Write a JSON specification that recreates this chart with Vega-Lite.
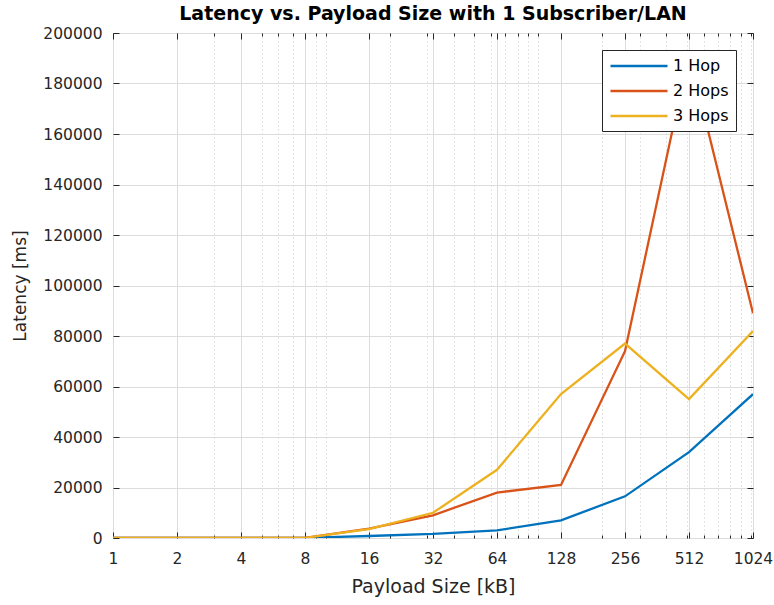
{
  "$schema": "https://vega.github.io/schema/vega-lite/v6.json",
  "width": 640,
  "height": 505,
  "autosize": {"type": "none"},
  "padding": {"left": 113, "top": 33, "right": 21, "bottom": 67},
  "background": "white",
  "title": {
    "text": "Latency vs. Payload Size with 1 Subscriber/LAN",
    "font": "DejaVu Sans",
    "fontSize": 19,
    "fontWeight": "bold",
    "color": "#000000",
    "anchor": "middle",
    "offset": 2
  },
  "config": {
    "view": {"stroke": "#262626", "strokeWidth": 1},
    "axis": {
      "labelFont": "DejaVu Sans",
      "labelFontSize": 15.5,
      "labelColor": "#262626",
      "titleFont": "DejaVu Sans",
      "titleFontSize": 19,
      "titleFontWeight": "normal",
      "titleColor": "#262626",
      "domainColor": "#262626",
      "tickColor": "#262626",
      "gridColor": "#dcdcdc",
      "gridWidth": 1
    },
    "legend": {
      "labelFont": "DejaVu Sans",
      "labelFontSize": 16,
      "labelColor": "#000000"
    }
  },
  "data": {
    "values": [
      {"size": 1, "latency": 30, "series": "1 Hop"},
      {"size": 2, "latency": 30, "series": "1 Hop"},
      {"size": 4, "latency": 40, "series": "1 Hop"},
      {"size": 8, "latency": 60, "series": "1 Hop"},
      {"size": 16, "latency": 800, "series": "1 Hop"},
      {"size": 32, "latency": 1600, "series": "1 Hop"},
      {"size": 64, "latency": 3000, "series": "1 Hop"},
      {"size": 128, "latency": 7000, "series": "1 Hop"},
      {"size": 256, "latency": 16500, "series": "1 Hop"},
      {"size": 512, "latency": 34000, "series": "1 Hop"},
      {"size": 1024, "latency": 57000, "series": "1 Hop"},
      {"size": 1, "latency": 30, "series": "2 Hops"},
      {"size": 2, "latency": 40, "series": "2 Hops"},
      {"size": 4, "latency": 50, "series": "2 Hops"},
      {"size": 8, "latency": 80, "series": "2 Hops"},
      {"size": 16, "latency": 3700, "series": "2 Hops"},
      {"size": 32, "latency": 9000, "series": "2 Hops"},
      {"size": 64, "latency": 18000, "series": "2 Hops"},
      {"size": 128, "latency": 21000, "series": "2 Hops"},
      {"size": 256, "latency": 74000, "series": "2 Hops"},
      {"size": 512, "latency": 192000, "series": "2 Hops"},
      {"size": 1024, "latency": 89000, "series": "2 Hops"},
      {"size": 1, "latency": 30, "series": "3 Hops"},
      {"size": 2, "latency": 40, "series": "3 Hops"},
      {"size": 4, "latency": 50, "series": "3 Hops"},
      {"size": 8, "latency": 80, "series": "3 Hops"},
      {"size": 16, "latency": 3500, "series": "3 Hops"},
      {"size": 32, "latency": 10000, "series": "3 Hops"},
      {"size": 64, "latency": 27000, "series": "3 Hops"},
      {"size": 128, "latency": 57000, "series": "3 Hops"},
      {"size": 256, "latency": 77000, "series": "3 Hops"},
      {"size": 512, "latency": 55000, "series": "3 Hops"},
      {"size": 1024, "latency": 82000, "series": "3 Hops"}
    ]
  },
  "layer": [
    {
      "mark": {"type": "point", "opacity": 0},
      "encoding": {
        "x": {
          "field": "size", "type": "quantitative",
          "scale": {"type": "log", "base": 2, "domain": [1, 1024], "nice": false},
          "axis": {
            "orient": "bottom",
            "values": [3, 5, 6, 7, 9, 10, 20, 30, 40, 50, 60, 70, 80, 90, 100, 200, 300, 400, 500, 600, 700, 800, 900, 1000],
            "labels": false, "domain": false, "title": null,
            "grid": true, "gridDash": [1, 3], "gridColor": "#c8c8c8",
            "ticks": true, "tickSize": -3
          }
        },
        "y": {
          "field": "latency", "type": "quantitative",
          "scale": {"domain": [0, 200000], "nice": false},
          "axis": {
            "orient": "right",
            "values": [0, 20000, 40000, 60000, 80000, 100000, 120000, 140000, 160000, 180000, 200000],
            "labels": false, "domain": false, "title": null, "grid": false,
            "ticks": true, "tickSize": -6
          }
        }
      }
    },
    {
      "mark": {"type": "point", "opacity": 0},
      "encoding": {
        "x": {
          "field": "size", "type": "quantitative",
          "scale": {"type": "log", "base": 2, "domain": [1, 1024], "nice": false},
          "axis": {
            "orient": "top",
            "values": [1, 2, 4, 8, 16, 32, 64, 128, 256, 512, 1024],
            "labels": false, "domain": false, "title": null, "grid": false,
            "ticks": true, "tickSize": -6
          }
        },
        "y": {
          "field": "latency", "type": "quantitative",
          "scale": {"domain": [0, 200000], "nice": false},
          "axis": null
        }
      }
    },
    {
      "mark": {"type": "point", "opacity": 0},
      "encoding": {
        "x": {
          "field": "size", "type": "quantitative",
          "scale": {"type": "log", "base": 2, "domain": [1, 1024], "nice": false},
          "axis": {
            "orient": "top",
            "values": [3, 5, 6, 7, 9, 10, 20, 30, 40, 50, 60, 70, 80, 90, 100, 200, 300, 400, 500, 600, 700, 800, 900, 1000],
            "labels": false, "domain": false, "title": null, "grid": false,
            "ticks": true, "tickSize": -3
          }
        },
        "y": {
          "field": "latency", "type": "quantitative",
          "scale": {"domain": [0, 200000], "nice": false},
          "axis": null
        }
      }
    },
    {
      "mark": {"type": "line", "strokeWidth": 2.3, "clip": true},
      "encoding": {
        "x": {
          "field": "size", "type": "quantitative",
          "scale": {"type": "log", "base": 2, "domain": [1, 1024], "nice": false},
          "axis": {
            "orient": "bottom",
            "values": [1, 2, 4, 8, 16, 32, 64, 128, 256, 512, 1024],
            "format": "d",
            "labelFlush": false,
            "labelOverlap": false,
            "title": "Payload Size [kB]",
            "titlePadding": 11,
            "grid": true,
            "domain": false,
            "ticks": true, "tickSize": -6,
            "labelPadding": 19
          }
        },
        "y": {
          "field": "latency", "type": "quantitative",
          "scale": {"domain": [0, 200000], "nice": false},
          "axis": {
            "orient": "left",
            "values": [0, 20000, 40000, 60000, 80000, 100000, 120000, 140000, 160000, 180000, 200000],
            "format": "d",
            "labelFlush": false,
            "labelOverlap": false,
            "title": "Latency [ms]",
            "titleFontSize": 17,
            "titlePadding": 13,
            "grid": true,
            "domain": false,
            "ticks": true, "tickSize": -6,
            "labelPadding": 17
          }
        },
        "color": {
          "field": "series", "type": "nominal",
          "scale": {"domain": ["1 Hop", "2 Hops", "3 Hops"], "range": ["#0072BD", "#D95319", "#EDB120"]},
          "legend": {
            "title": null,
            "orient": "top-right",
            "offset": 17,
            "symbolType": "M-1,0H6.6",
            "symbolSize": 225,
            "symbolStrokeWidth": 2.3,
            "fillColor": "white",
            "strokeColor": "#262626",
            "padding": 7,
            "rowPadding": 8,
            "labelOffset": 46
          }
        }
      }
    }
  ],
  "resolve": {"axis": {"x": "independent", "y": "independent"}}
}
